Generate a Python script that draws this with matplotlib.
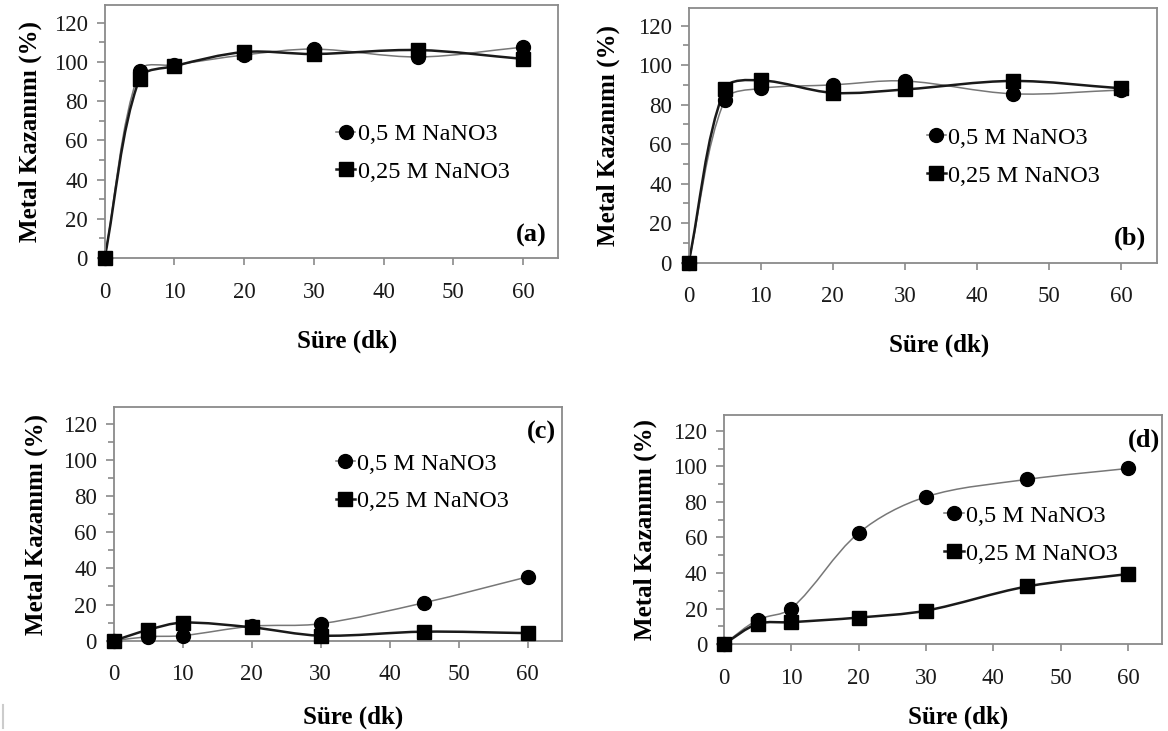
import numpy as np
import matplotlib
matplotlib.use('Agg')
import matplotlib.pyplot as plt
from matplotlib.path import Path
from matplotlib.patches import PathPatch
from matplotlib.lines import Line2D
from matplotlib.ticker import MultipleLocator

plt.rcParams['font.family'] = 'Liberation Serif'

# Süre (dk)
sure = [0, 5, 10, 20, 30, 45, 60]

# Metal kazanımı (%) - (a)
a_05 = [0, 95.5, 98.4, 103.5, 106.5, 102.5, 107.5]
a_025 = [0, 91.5, 97.8, 105, 104, 106, 101.5]
# (b)
b_05 = [0, 82.3, 88.2, 90, 92, 85.5, 87.4]
b_025 = [0, 88, 92.3, 86, 87.7, 92, 88.3]
# (c)
c_05 = [0, 2.2, 2.8, 8, 9.4, 21, 35.3]
c_025 = [0, 6.0, 10.0, 7.4, 2.8, 5.0, 4.2]
# (d)
d_05 = [0, 13.6, 20.0, 62.5, 82.9, 92.7, 98.9]
d_025 = [0, 11.3, 12.3, 14.9, 18.8, 32.4, 39.4]

etiket_05 = '0,5 M NaNO3'
etiket_025 = '0,25 M NaNO3'

# axes position [left, bottom, width, height], legend anchor, ylabel x, xlabel y, panel label pos
paneller = [
    ('(a)', a_05, a_025, [0.0896, 0.6471, 0.3881, 0.3461], (0.51, 0.415), -0.165, -0.33, (0.974, 0.09)),
    ('(b)', b_05, b_025, [0.5896, 0.6409, 0.4009, 0.3482], (0.508, 0.415), -0.172, -0.325, (0.976, 0.096)),
    ('(c)', c_05, c_025, [0.0973, 0.1235, 0.3839, 0.3193], (0.495, 0.678), -0.172, -0.33, (0.987, 0.894)),
    ('(d)', d_05, d_025, [0.6198, 0.1190, 0.3748, 0.3133], (0.503, 0.477), -0.18, -0.32, (0.996, 0.89)),
]

fig = plt.figure(figsize=(11.68, 7.31), dpi=100)

cerceve = '#8a8a8a'


def excel_egri(ax, x, y, renk, kalinlik):
    # excel style smoothed line (bezier), computed in pixel space
    pts = ax.transData.transform(np.column_stack([x, y]))
    n = len(pts)
    t = 1.0 / 6.0
    verts = [pts[0]]
    codes = [Path.MOVETO]
    for i in range(n - 1):
        p0 = pts[max(i - 1, 0)]
        p1 = pts[i]
        p2 = pts[i + 1]
        p3 = pts[min(i + 2, n - 1)]
        d1 = np.hypot(*(p1 - p0))
        d2 = np.hypot(*(p2 - p1))
        d3 = np.hypot(*(p3 - p2))
        f1 = t * 2 * d2 / (d1 + d2) if d1 + d2 > 0 else 0
        f2 = t * 2 * d2 / (d2 + d3) if d2 + d3 > 0 else 0
        c1 = p1 + (p2 - p0) * f1
        c2 = p2 - (p3 - p1) * f2
        verts += [c1, c2, p2]
        codes += [Path.CURVE4] * 3
    verts = ax.transData.inverted().transform(np.array(verts))
    patch = PathPatch(Path(verts, codes), facecolor='none', edgecolor=renk,
                      lw=kalinlik, zorder=2, clip_on=False)
    ax.add_patch(patch)


for harf, seri05, seri025, pos, leg_pos, ylab_x, xlab_y, harf_pos in paneller:
    ax = fig.add_axes(pos)
    ax.set_xlim(0, 65)
    ax.set_ylim(0, 129)

    excel_egri(ax, sure, seri05, '#777777', 1.1)
    excel_egri(ax, sure, seri025, '#1a1a1a', 1.8)
    ax.plot(sure, seri05, ls='none', marker='o', ms=10, color='black', zorder=3, clip_on=False)
    ax.plot(sure, seri025, ls='none', marker='s', ms=9.5, color='black', zorder=3, clip_on=False)

    ax.xaxis.set_major_locator(MultipleLocator(10))
    ax.yaxis.set_major_locator(MultipleLocator(20))
    ax.yaxis.set_minor_locator(MultipleLocator(10))
    ax.set_yticks(np.arange(0, 121, 20))
    ax.tick_params(axis='both', which='both', direction='out', color=cerceve,
                   labelsize=16.5, labelcolor='#1a1a1a', width=1.2)
    ax.tick_params(axis='y', which='major', length=6, pad=6)
    ax.tick_params(axis='y', which='minor', length=4.5)
    ax.tick_params(axis='x', which='major', length=5, pad=12)
    for sp in ax.spines.values():
        sp.set_color(cerceve)
        sp.set_linewidth(1.3)

    ax.set_ylabel('Metal Kazanımı (%)', fontsize=18, fontweight='bold', va='center')
    ax.yaxis.set_label_coords(ylab_x, 0.5)
    ax.set_xlabel('Süre (dk)', fontsize=18, fontweight='bold', va='center')
    ax.xaxis.set_label_coords(0.535, xlab_y)

    ax.text(harf_pos[0], harf_pos[1], harf, transform=ax.transAxes, ha='right',
            va='center', fontsize=19, fontweight='bold')

    tutamak = [
        Line2D([], [], color='#777777', lw=1.1, marker='o', ms=10, mfc='black', mec='black'),
        Line2D([], [], color='#1a1a1a', lw=1.8, marker='s', ms=9.5, mfc='black', mec='black'),
    ]
    ax.legend(tutamak, [etiket_05, etiket_025], loc='center left', bbox_to_anchor=leg_pos,
              frameon=False, fontsize=17.5, handlelength=0.8, handletextpad=0.1,
              borderpad=0, borderaxespad=0, labelspacing=0.65)

# small grey mark at lower-left edge of the page
fig.add_artist(Line2D([0.0025, 0.0025], [0.004, 0.036], color='#cccccc', lw=1.5))

fig.savefig('out.png', dpi=100)
